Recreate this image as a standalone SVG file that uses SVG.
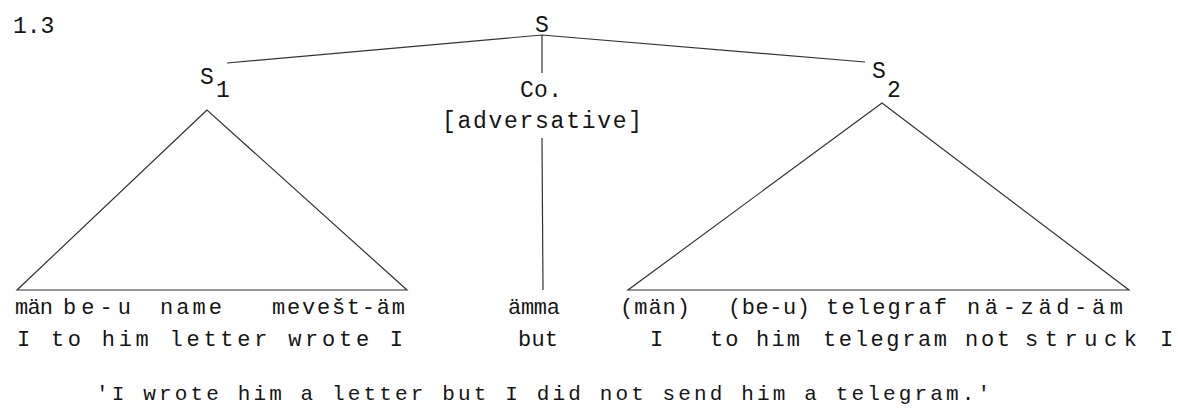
<svg xmlns="http://www.w3.org/2000/svg" width="1178" height="420" viewBox="0 0 1178 420">
<style>
text{font-family:"Liberation Mono","DejaVu Sans Mono",monospace;fill:#151515}
.lab{font-size:23px}
.w{font-size:22px}
.tr{font-size:21px}
.ln{stroke:#333;stroke-width:1.2;fill:none}
</style>
<rect width="1178" height="420" fill="#fff"/>
<text class="lab" x="13" y="33" font-size="24">1.3</text>
<g id="S"><text class="lab" x="535" y="32">S</text></g>
<g id="S1"><text class="lab" x="200" y="84">S</text><text class="lab" x="216" y="97">1</text></g>
<g id="S2"><text class="lab" x="872" y="78">S</text><text class="lab" x="887" y="97">2</text></g>
<g id="Co"><text class="lab" x="520" y="97" textLength="42">Co.</text><text class="lab" x="442" y="128" textLength="200">[adversative]</text></g>
<g id="connectors">
<polyline class="ln" points="227,63 542,35 865,62"/>
<line class="ln" x1="542" y1="35" x2="542" y2="73"/>
<line class="ln" x1="542" y1="138" x2="543" y2="290"/>
<polygon class="ln" points="207,110 17,290 407,290"/>
<polygon class="ln" points="882,103 628,290 1129,290"/>
</g>
<g id="leaves1">
<text class="w" x="15" y="314" textLength="38">män</text>
<text class="w" x="63" y="314" textLength="68">be-u</text>
<text class="w" x="160" y="314" textLength="62">name</text>
<text class="w" x="272" y="314" textLength="133">mevešt-äm</text>
<text class="w" x="17" y="346" textLength="386">I to him letter wrote I</text>
</g>
<g id="leafCo">
<text class="w" x="508" y="314" textLength="52">ämma</text>
<text class="w" x="518" y="346" textLength="40">but</text>
</g>
<g id="leaves2">
<text class="w" x="620" y="314" textLength="70">(män)</text>
<text class="w" x="728" y="314" textLength="82">(be-u)</text>
<text class="w" x="826" y="314" textLength="121">telegraf</text>
<text class="w" x="967" y="314" textLength="156">nä-zäd-äm</text>
<text class="w" x="650" y="346">I</text>
<text class="w" x="710" y="346" textLength="90">to him</text>
<text class="w" x="823" y="346" textLength="124">telegram</text>
<text class="w" x="965" y="346" textLength="45">not</text>
<text class="w" x="1025" y="346" textLength="112">struck</text>
<text class="w" x="1160" y="346">I</text>
</g>
<text class="tr" x="96" y="400" textLength="894">'I wrote him a letter but I did not send him a telegram.'</text>
</svg>
